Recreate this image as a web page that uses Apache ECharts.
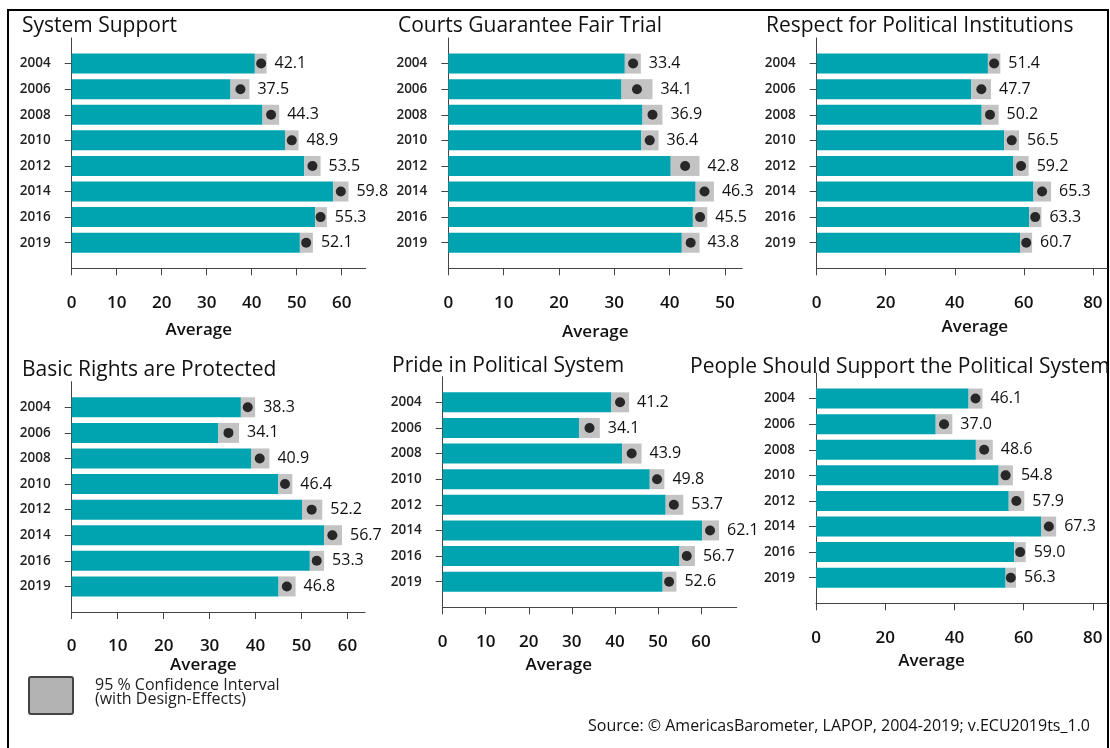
<!DOCTYPE html>
<html>
<head>
<meta charset="utf-8">
<script src="https://cdn.jsdelivr.net/npm/echarts@6/dist/echarts.min.js"></script>
<style>
  html, body { margin: 0; padding: 0; background: #fff; }
  #chart { width: 1110px; height: 748px; }
</style>
</head>
<body>
<div id="chart"></div>
<script>
// survey years (y categories)
const years = ['2004', '2006', '2008', '2010', '2012', '2014', '2016', '2019']

// System Support
const supportMean = [42.1, 37.5, 44.3, 48.9, 53.5, 59.8, 55.3, 52.1]
const supportLow = [40.7, 35.3, 42.4, 47.4, 51.7, 58.1, 54.1, 50.7]
const supportHigh = [43.3, 39.5, 46.1, 50.4, 55.3, 61.5, 56.7, 53.6]
// Courts Guarantee Fair Trial
const courtsMean = [33.4, 34.1, 36.9, 36.4, 42.8, 46.3, 45.5, 43.8]
const courtsLow = [31.9, 31.3, 35.1, 34.9, 40.2, 44.7, 44.2, 42.2]
const courtsHigh = [34.8, 36.9, 38.7, 38.0, 45.4, 48.0, 46.8, 45.4]
// Respect for Political Institutions
const respectMean = [51.4, 47.7, 50.2, 56.5, 59.2, 65.3, 63.3, 60.7]
const respectLow = [49.6, 44.8, 47.8, 54.3, 57.0, 62.8, 61.6, 58.9]
const respectHigh = [53.2, 50.5, 52.7, 58.6, 61.4, 67.9, 65.1, 62.4]
// Basic Rights are Protected
const rightsMean = [38.3, 34.1, 40.9, 46.4, 52.2, 56.7, 53.3, 46.8]
const rightsLow = [36.8, 31.9, 39.1, 44.9, 50.1, 54.9, 51.8, 45.0]
const rightsHigh = [39.9, 36.4, 43.0, 48.0, 54.5, 58.8, 54.9, 48.7]
// Pride in Political System
const prideMean = [41.2, 34.1, 43.9, 49.8, 53.7, 62.1, 56.7, 52.6]
const prideLow = [39.2, 31.7, 41.7, 48.1, 51.8, 60.3, 55.0, 51.1]
const prideHigh = [43.3, 36.5, 46.2, 51.5, 55.9, 64.2, 58.6, 54.3]
// People Should Support the Political System
const peopleMean = [46.1, 37.0, 48.6, 54.8, 57.9, 67.3, 59.0, 56.3]
const peopleLow = [44.1, 34.6, 46.2, 52.8, 55.7, 65.1, 57.3, 54.8]
const peopleHigh = [48.1, 39.4, 51.1, 56.9, 60.2, 69.4, 60.6, 57.8]

// x tick labels
const ticks60 = [0, 10, 20, 30, 40, 50, 60]
const ticks50 = [0, 10, 20, 30, 40, 50]
const ticks80 = [0, 20, 40, 60, 80]

const TEAL = '#00a3b0'
const CI_GRAY = '#c3c3c3'
const FONT = '"Open Sans", "DejaVu Sans", sans-serif'

// panel layout: grid box, axis max, title spot, offset of the "Average" name
const panels = [
  { title: 'System Support', mean: supportMean, low: supportLow, high: supportHigh, ticks: ticks60,
    left: 71.7, top: 38, width: 294, height: 230.3, max: 65.33, tx: 22, ty: 16, nameGap: 53, shift: -20 },
  { title: 'Courts Guarantee Fair Trial', mean: courtsMean, low: courtsLow, high: courtsHigh, ticks: ticks50,
    left: 448.3, top: 38, width: 294, height: 230.3, max: 53.13, tx: 398, ty: 16, nameGap: 55, shift: 0 },
  { title: 'Respect for Political Institutions', mean: respectMean, low: respectLow, high: respectHigh, ticks: ticks80,
    left: 816.7, top: 38, width: 290.3, height: 230.3, max: 84.1, tx: 766, ty: 16, nameGap: 50, shift: 13 },
  { title: 'Basic Rights are Protected', mean: rightsMean, low: rightsLow, high: rightsHigh, ticks: ticks60,
    left: 71.7, top: 381.7, width: 293.3, height: 230.3, max: 63.8, tx: 22, ty: 360, nameGap: 45, shift: -15 },
  { title: 'Pride in Political System', mean: prideMean, low: prideLow, high: prideHigh, ticks: ticks60,
    left: 442.7, top: 376.7, width: 294, height: 230.6, max: 68.3, tx: 392, ty: 356, nameGap: 49, shift: -31 },
  { title: 'People Should Support the Political System', mean: peopleMean, low: peopleLow, high: peopleHigh, ticks: ticks80,
    left: 816, top: 373, width: 291, height: 230.3, max: 84.1, tx: 690, ty: 357, nameGap: 49, shift: -30 }
]

// empty slots above 2004 and below 2019 give the axis its padding
const yCats = [''].concat(years, [''])

const chart = echarts.init(document.getElementById('chart'), null, { renderer: 'canvas' })

const grid = []
const xAxis = []
const yAxis = []
const series = []
const title = []

panels.forEach((p, i) => {
  title.push({
    text: p.title, left: p.tx, top: p.ty, padding: 0,
    textStyle: { fontFamily: FONT, fontSize: 21, fontWeight: 'normal', color: '#111' }
  })
  grid.push({ left: p.left, top: p.top, width: p.width, height: p.height })
  const step = p.ticks[1] - p.ticks[0]
  xAxis.push({
    gridIndex: i, type: 'value', min: 0, max: p.max, interval: step,
    splitLine: { show: false },
    axisLine: { show: true, lineStyle: { color: '#444', width: 1 } },
    axisTick: { show: true, length: 7, lineStyle: { color: '#444' }, customValues: p.ticks },
    axisLabel: { customValues: p.ticks, margin: 26, fontFamily: FONT, fontSize: 17, fontWeight: 600, color: '#111' },
    name: 'Average', nameLocation: 'middle', nameGap: p.nameGap,
    nameTextStyle: {
      fontFamily: FONT, fontSize: 17, fontWeight: 600, color: '#111',
      padding: p.shift < 0 ? [0, -2 * p.shift, 0, 0] : [0, 0, 0, 2 * p.shift]
    }
  })
  yAxis.push({
    gridIndex: i, type: 'category', data: yCats, inverse: true, boundaryGap: false,
    axisLine: { show: true, lineStyle: { color: '#444', width: 1 } },
    axisTick: { show: true, length: 7, lineStyle: { color: '#444' }, interval: (idx, v) => v !== '' },
    axisLabel: { interval: 0, margin: 21, fontFamily: FONT, fontSize: 13.5, fontWeight: 600, color: '#222' }
  })
  const pad = arr => [null].concat(arr, [null])
  series.push({
    type: 'bar', xAxisIndex: i, yAxisIndex: i, stack: 'ci' + i, barWidth: 20,
    itemStyle: { color: TEAL }, silent: true,
    data: pad(p.low)
  })
  series.push({
    type: 'bar', xAxisIndex: i, yAxisIndex: i, stack: 'ci' + i, barWidth: 20,
    itemStyle: { color: CI_GRAY }, silent: true,
    data: pad(p.high.map((h, k) => +(h - p.low[k]).toFixed(2))),
    label: {
      show: true, position: 'right', distance: 8,
      fontFamily: FONT, fontSize: 16, color: '#111',
      formatter: prm => p.mean[prm.dataIndex - 1].toFixed(1)
    }
  })
  series.push({
    type: 'scatter', xAxisIndex: i, yAxisIndex: i, symbolSize: 10, z: 5,
    itemStyle: { color: '#000' }, silent: true,
    data: years.map((y, k) => [p.mean[k], y])
  })
})

chart.setOption({
  animation: false,
  title: title,
  grid: grid,
  xAxis: xAxis,
  yAxis: yAxis,
  series: series,
  graphic: [
    // outer frame
    { type: 'rect', shape: { x: 8, y: 10, width: 1100, height: 760 },
      style: { fill: 'none', stroke: '#000', lineWidth: 2 }, silent: true },
    // confidence interval key
    { type: 'rect', shape: { x: 29, y: 677, width: 44, height: 37, r: 2 },
      style: { fill: '#b3b3b3', stroke: '#444', lineWidth: 2 } },
    { type: 'text', left: 95, top: 677,
      style: { text: '95 % Confidence Interval\n(with Design-Effects)', font: '16px ' + FONT, fill: '#222', lineHeight: 14.5 } },
    { type: 'text', right: 20, top: 718,
      style: { text: 'Source: \u00a9 AmericasBarometer, LAPOP, 2004-2019; v.ECU2019ts_1.0', font: '16px ' + FONT, fill: '#111' } }
  ]
})
</script>
</body>
</html>
